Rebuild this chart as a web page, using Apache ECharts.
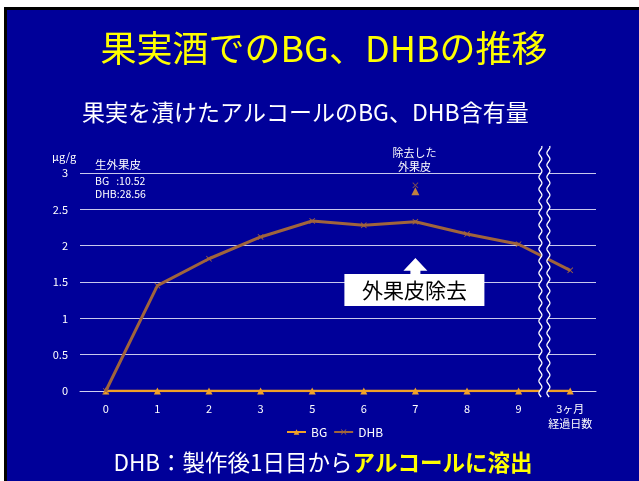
<!DOCTYPE html>
<html><head><meta charset="utf-8">
<script src="https://cdn.jsdelivr.net/npm/echarts@6/dist/echarts.min.js"></script>
<style>html,body{margin:0;padding:0;background:#fff}#c{width:639px;height:481px}</style>
</head><body><div id="c"></div>
<script>
const categories = ['0','1','2','3','5','6','7','8','9','3ヶ月\n経過日数'];
const bgValues = [0,0,0,0,0,0,0,0,0,0];
const dhbValues = [0,1.45,1.82,2.12,2.34,2.28,2.33,2.16,2.02,1.66];
const peelCategory = '7';
const peelBG = [2.75];
const peelDHB = [2.83];
const yMin = 0, yMax = 3, yStep = 0.5;

const FONT = 'Noto Sans CJK JP';
const BLUE = '#000099';
const ORANGE = '#F0A028';
const BROWN = '#A0643C';
const XSYM = 'path://M0,1L1,0L5,4L9,0L10,1L6,5L10,9L9,10L5,6L1,10L0,9L4,5Z';

const chart = echarts.init(document.getElementById('c'), null, {renderer:'canvas'});
const peelIdx = categories.indexOf(peelCategory);

chart.setOption({
  backgroundColor: BLUE,
  animation: false,
  textStyle: {fontFamily: FONT},
  grid: {left: 80, right: 43, top: 173, bottom: 90, containLabel: false},
  legend: {
    data: ['BG','DHB'], left: 281, top: 421, itemWidth: 19, itemHeight: 7, itemGap: 6,
    textStyle: {color: '#fff', fontSize: 12, fontFamily: FONT}
  },
  xAxis: {
    type: 'category', data: categories, boundaryGap: true,
    axisLine: {show: true, lineStyle: {color: '#D0D0F0', width: 1}},
    axisTick: {show: false},
    axisLabel: {color: '#fff', fontSize: 11, margin: 10, lineHeight: 15, interval: 0, fontFamily: FONT}
  },
  yAxis: {
    type: 'value', min: yMin, max: yMax, interval: yStep,
    axisLine: {show: false}, axisTick: {show: false},
    axisLabel: {color: '#fff', fontSize: 11, margin: 12, fontFamily: FONT},
    splitLine: {lineStyle: {color: '#C8C8EC', width: 1.2}}
  },
  series: [
    {name: 'BG', type: 'line', data: bgValues, color: ORANGE, z: 3,
     lineStyle: {width: 2.5, color: ORANGE}, symbol: 'triangle', symbolSize: 7,
     itemStyle: {color: ORANGE}},
    {name: 'DHB', type: 'line', data: dhbValues, color: BROWN, z: 4,
     lineStyle: {width: 3, color: BROWN}, symbol: XSYM, symbolSize: 6,
     itemStyle: {color: BROWN}},
    {name: 'peelBG', type: 'scatter', data: peelBG.map(v => [peelIdx, v]),
     symbol: 'triangle', symbolSize: 8, itemStyle: {color: ORANGE}, z: 5},
    {name: 'peelDHB', type: 'scatter', data: peelDHB.map(v => [peelIdx, v]),
     symbol: XSYM, symbolSize: 6, itemStyle: {color: BROWN}, z: 5}
  ]
});

// decorations
const x9 = chart.convertToPixel({xAxisIndex: 0}, 8);
const x10 = chart.convertToPixel({xAxisIndex: 0}, 9);
const xb = (x9 + x10) / 2;
const x7 = chart.convertToPixel({xAxisIndex: 0}, peelIdx);
function wave(x0) {
  const pts = [];
  for (let y = 146; y <= 397; y += 1) pts.push([x0 + 1.5 * Math.sin(2 * Math.PI * y / 12), y]);
  return pts;
}
const fillPts = wave(xb - 4).concat(wave(xb + 4).reverse());

chart.setOption({
  graphic: [
    {type: 'rect', shape: {x: 0, y: 0, width: 639, height: 7}, style: {fill: '#fff'}, silent: true},
    {type: 'rect', shape: {x: 0, y: 0, width: 4, height: 481}, style: {fill: '#fff'}, silent: true},
    {type: 'rect', shape: {x: 4, y: 7, width: 635, height: 3}, style: {fill: '#000'}, silent: true},
    {type: 'rect', shape: {x: 4, y: 7, width: 3, height: 474}, style: {fill: '#000'}, silent: true},
    {type: 'polygon', shape: {points: fillPts}, style: {fill: BLUE}, z: 50, silent: true},
    {type: 'polyline', shape: {points: wave(xb - 4)}, style: {stroke: '#fff', lineWidth: 1.3, fill: null}, z: 51, silent: true},
    {type: 'polyline', shape: {points: wave(xb + 4)}, style: {stroke: '#fff', lineWidth: 1.3, fill: null}, z: 51, silent: true},
    {type: 'text', x: 324, y: 48, style: {text: '果実酒でのBG、DHBの推移', fill: '#FFFF00', font: '36px "' + FONT + '"', textAlign: 'center', textVerticalAlign: 'middle'}, z: 60},
    {type: 'text', x: 82, y: 112, style: {text: '果実を漬けたアルコールのBG、DHB含有量', fill: '#fff', font: '23px "' + FONT + '"', textAlign: 'left', textVerticalAlign: 'middle'}, z: 60},
    {type: 'text', x: 323, y: 462, style: {
      text: '{w|DHB：製作後1日目から}{y|アルコールに溶出}',
      textAlign: 'center', textVerticalAlign: 'middle',
      rich: {
        w: {fill: '#fff', fontSize: 22.5, fontFamily: FONT},
        y: {fill: '#FFFF00', fontSize: 22.5, fontWeight: 'bold', fontFamily: FONT}
      }}, z: 60},
    {type: 'text', x: 52, y: 157, style: {text: 'μg/g', fill: '#fff', font: '11px "' + FONT + '"', textVerticalAlign: 'middle'}, z: 60},
    {type: 'text', x: 95, y: 165, style: {text: '生外果皮', fill: '#fff', font: '11.5px "' + FONT + '"', textVerticalAlign: 'middle'}, z: 60},
    {type: 'text', x: 95, y: 181, style: {text: 'BG   :10.52', fill: '#fff', font: '10.5px "' + FONT + '"', textVerticalAlign: 'middle'}, z: 60},
    {type: 'text', x: 95, y: 194.5, style: {text: 'DHB:28.56', fill: '#fff', font: '10.5px "' + FONT + '"', textVerticalAlign: 'middle'}, z: 60},
    {type: 'text', x: x7 - 1, y: 152.5, style: {text: '除去した', fill: '#fff', font: '11px "' + FONT + '"', textAlign: 'center', textVerticalAlign: 'middle'}, z: 60},
    {type: 'text', x: x7 - 1, y: 166.7, style: {text: '外果皮', fill: '#fff', font: '11px "' + FONT + '"', textAlign: 'center', textVerticalAlign: 'middle'}, z: 60},
    {type: 'polygon', shape: {points: [[x7, 258], [x7 + 12, 270.7], [x7 + 5, 270.7], [x7 + 5, 275], [x7 - 5, 275], [x7 - 5, 270.7], [x7 - 12, 270.7]]}, style: {fill: '#fff'}, z: 60},
    {type: 'rect', shape: {x: x7 - 71, y: 274, width: 140, height: 32}, style: {fill: '#fff'}, z: 60},
    {type: 'text', x: x7 - 1, y: 290.5, style: {text: '外果皮除去', fill: '#000', font: '21px "' + FONT + '"', textAlign: 'center', textVerticalAlign: 'middle'}, z: 61}
  ]
});
</script></body></html>
